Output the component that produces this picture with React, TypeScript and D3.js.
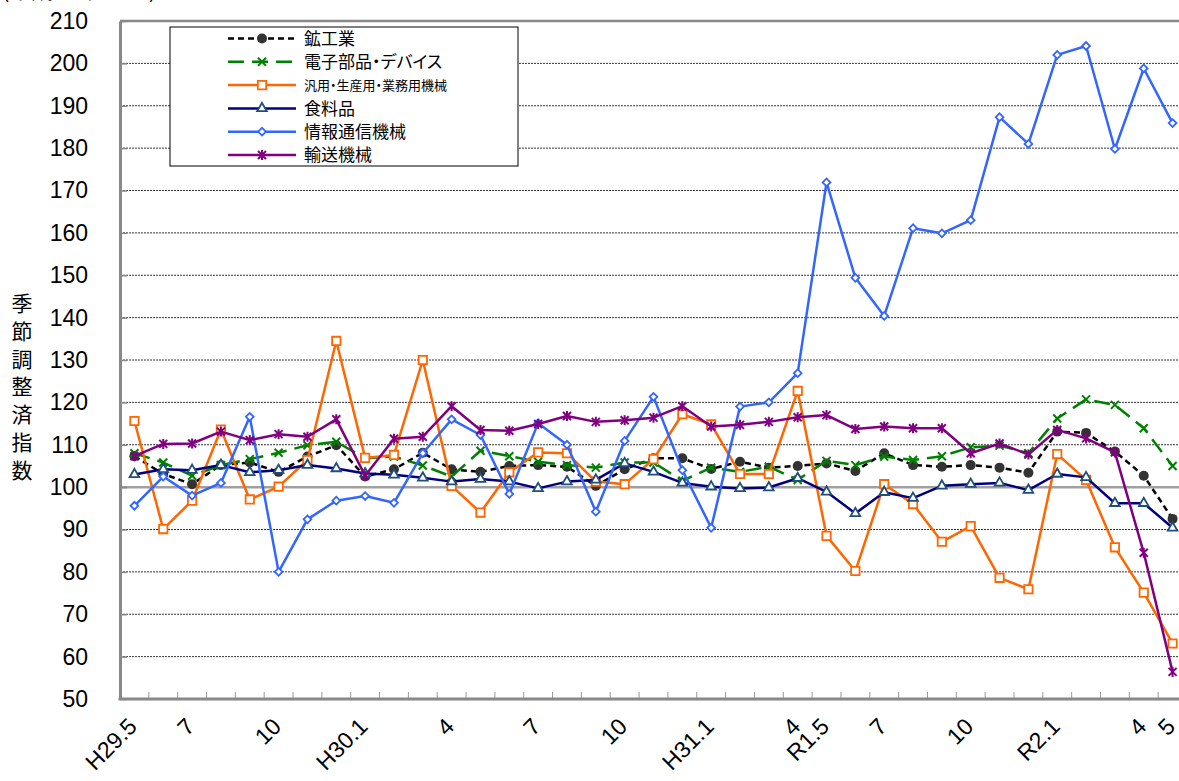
import * as d3 from 'd3';
import { useEffect, useRef } from 'react';

// months from H29.5 to R2.5
const months = [
  'H29.5', 'H29.6', 'H29.7', 'H29.8', 'H29.9', 'H29.10', 'H29.11', 'H29.12',
  'H30.1', 'H30.2', 'H30.3', 'H30.4', 'H30.5', 'H30.6', 'H30.7', 'H30.8', 'H30.9', 'H30.10', 'H30.11', 'H30.12',
  'H31.1', 'H31.2', 'H31.3', 'H31.4',
  'R1.5', 'R1.6', 'R1.7', 'R1.8', 'R1.9', 'R1.10', 'R1.11', 'R1.12',
  'R2.1', 'R2.2', 'R2.3', 'R2.4', 'R2.5',
];

const tickLabels = [
  'H29.5', '', '7', '', '', '10', '', '',
  'H30.1', '', '', '4', '', '', '7', '', '', '10', '', '',
  'H31.1', '', '', '4',
  'R1.5', '', '7', '', '', '10', '', '',
  'R2.1', '', '', '4', '5',
];

const yTicks = [50, 60, 70, 80, 90, 100, 110, 120, 130, 140, 150, 160, 170, 180, 190, 200, 210];

const mining = [107.3, 103.1, 100.7, 105.2, 105.8, 103.6, 107.2, 109.9, 102.5, 104.2, 108.1, 104.2, 103.6, 105, 105.2, 104.8, 100.3, 104.2, 106.8, 106.8, 104.3, 106, 104.6, 105, 105.6, 103.8, 108, 105.2, 104.8, 105.2, 104.6, 103.4, 113.1, 112.8, 108.4, 102.7, 92.5];
const electronic = [108, 105.8, 102.7, 105.2, 106.6, 108.1, 109.9, 110.7, 106.8, 107.2, 105.1, 102.5, 108.6, 107.3, 106, 105.2, 104.6, 105.8, 105.8, 101.5, 104.6, 103.6, 104.8, 101.7, 106.2, 105.2, 107.2, 106.4, 107.3, 109.4, 109.8, 108, 116.2, 120.7, 119.4, 113.9, 105];
const machinery = [115.6, 90.1, 96.8, 113.6, 97.1, 100.1, 106.4, 134.5, 106.9, 107.6, 130, 100.3, 94, 103.5, 108.2, 108, 101.3, 100.7, 106.6, 117.2, 114.8, 103.1, 103.1, 122.7, 88.5, 80.2, 100.7, 96, 87.1, 90.8, 78.6, 75.9, 107.8, 101.7, 85.8, 75.1, 63.1];
const food = [103, 104.2, 104, 105.2, 103.5, 104, 105.2, 104.4, 103.2, 102.9, 102.2, 101.3, 101.9, 101.3, 99.7, 101.3, 101.7, 105.6, 103.6, 101, 100.1, 99.7, 99.9, 102.1, 98.9, 93.8, 98.8, 97.4, 100.3, 100.7, 101, 99.3, 103.1, 102.3, 96.2, 96.2, 90.4];
const infoComm = [95.6, 102.5, 98, 101, 116.6, 80, 92.4, 96.8, 97.9, 96.3, 108, 116, 112.3, 98.4, 115.1, 110, 94.2, 110.9, 121.3, 104, 90.4, 119, 120, 126.9, 171.9, 149.4, 140.4, 161.1, 159.9, 163, 187.3, 181, 202, 204.1, 179.8, 198.8, 185.9];
const transport = [107.3, 110.2, 110.3, 113.1, 111.1, 112.5, 111.9, 116, 102.7, 111.4, 111.9, 119.1, 113.5, 113.3, 114.9, 116.8, 115.4, 115.8, 116.4, 119.1, 114.3, 114.7, 115.4, 116.5, 117, 113.7, 114.3, 113.9, 113.9, 108, 110.3, 107.7, 113.5, 111.5, 108.2, 84.5, 56.4];

const series = [
  { name: '鉱工業', values: mining, color: '#000000', dash: '6,4', marker: 'circle', markerColor: '#333333', fontSize: 17 },
  { name: '電子部品・デバイス', values: electronic, color: '#008000', dash: '16,8', marker: 'cross', markerColor: '#008000', fontSize: 17 },
  { name: '汎用・生産用・業務用機械', values: machinery, color: '#FF6600', dash: null, marker: 'square', markerColor: '#FF6600', fontSize: 13 },
  { name: '食料品', values: food, color: '#000080', dash: null, marker: 'triangle', markerColor: '#1F4E79', fontSize: 17 },
  { name: '情報通信機械', values: infoComm, color: '#3366FF', dash: null, marker: 'diamond', markerColor: '#3366FF', fontSize: 17 },
  { name: '輸送機械', values: transport, color: '#800080', dash: null, marker: 'star', markerColor: '#800080', fontSize: 17 },
];

const FONT = '"Liberation Sans", Arial, "Noto Sans CJK JP", sans-serif';
const JP_FONT = '"Noto Sans CJK JP", sans-serif';

const drawMarker = (g: any, type: string, color: string) => {
  if (type === 'circle') {
    g.append('circle').attr('r', 5).attr('fill', color);
  } else if (type === 'cross') {
    g.append('path').attr('d', 'M-4,-4L4,4M-4,4L4,-4').attr('stroke', color).attr('stroke-width', 2).attr('fill', 'none');
  } else if (type === 'square') {
    g.append('path').attr('d', d3.symbol(d3.symbolSquare, 70)()).attr('fill', '#fff').attr('stroke', color).attr('stroke-width', 1.8);
  } else if (type === 'triangle') {
    g.append('path').attr('d', d3.symbol(d3.symbolTriangle, 40)()).attr('fill', '#fff').attr('stroke', color).attr('stroke-width', 1.8);
  } else if (type === 'diamond') {
    g.append('path').attr('d', d3.symbol(d3.symbolSquare, 30)()).attr('transform', 'rotate(45)').attr('fill', '#fff').attr('stroke', color).attr('stroke-width', 1.8);
  } else if (type === 'star') {
    g.append('path').attr('d', 'M-4,-4L4,4M-4,4L4,-4M0,-5L0,5').attr('stroke', color).attr('stroke-width', 2).attr('fill', 'none');
  }
};

const App = () => {
  const ref = useRef<SVGSVGElement | null>(null);

  useEffect(() => {
    const width = 1179;
    const height = 781;
    const left = 120;
    const right = 1187;
    const top = 21;
    const bottom = 699;

    const svg = d3.select(ref.current).attr('width', width).attr('height', height);
    svg.selectAll('*').remove();

    const x = d3.scaleBand().domain(months).range([left, right]);
    const y = d3.scaleLinear().domain([50, 210]).range([bottom, top]);
    const cx = (m: string) => (x(m) as number) + x.bandwidth() / 2;

    // unit text, mostly above the top edge in the original
    svg.append('text').attr('x', 2).attr('y', -2.5).attr('font-family', JP_FONT).attr('font-size', 22).text('(平成27年=100)');

    // grid lines
    svg.append('g')
      .selectAll('line')
      .data(yTicks.filter((v) => v !== 50 && v !== 100 && v !== 210))
      .join('line')
      .attr('x1', left)
      .attr('x2', width)
      .attr('y1', (d) => y(d))
      .attr('y2', (d) => y(d))
      .attr('stroke', '#333')
      .attr('stroke-width', 1)
      .attr('stroke-dasharray', '2,1');

    // 100 reference line
    svg.append('line')
      .attr('x1', left).attr('x2', width)
      .attr('y1', y(100)).attr('y2', y(100))
      .attr('stroke', '#a0a0a0').attr('stroke-width', 2.5);

    // top border
    svg.append('line')
      .attr('x1', left).attr('x2', width)
      .attr('y1', y(210)).attr('y2', y(210))
      .attr('stroke', '#888').attr('stroke-width', 2.5);

    // y axis
    const yAxis = svg.append('g')
      .attr('transform', `translate(${left},0)`)
      .call(d3.axisLeft(y).tickValues(yTicks).tickSizeInner(-7).tickSizeOuter(0).tickPadding(32));
    yAxis.select('.domain').attr('stroke', '#888').attr('stroke-width', 3);
    yAxis.selectAll('.tick line').attr('stroke', '#888').attr('stroke-width', 1.5);
    yAxis.selectAll('.tick text').attr('font-family', FONT).attr('font-size', 23).attr('fill', '#000');

    // x axis
    svg.append('g')
      .selectAll('line')
      .data(months.slice(1))
      .join('line')
      .attr('x1', (d) => x(d) as number)
      .attr('x2', (d) => x(d) as number)
      .attr('y1', bottom)
      .attr('y2', bottom - 7)
      .attr('stroke', '#999')
      .attr('stroke-width', 1);
    svg.append('line')
      .attr('x1', left - 1.5).attr('x2', width)
      .attr('y1', bottom).attr('y2', bottom)
      .attr('stroke', '#888').attr('stroke-width', 3);

    svg.append('g')
      .selectAll('text')
      .data(months)
      .join('text')
      .attr('transform', (d) => `translate(${cx(d) + 4},${bottom + 29}) rotate(-45)`)
      .attr('text-anchor', 'end')
      .attr('font-family', FONT)
      .attr('font-size', 23)
      .text((d, i) => tickLabels[i]);

    // y axis title, vertical
    const title = '季節調整済指数';
    svg.append('g')
      .selectAll('text')
      .data(title.split(''))
      .join('text')
      .attr('x', 22)
      .attr('y', (d, i) => 311 + i * 27.8)
      .attr('text-anchor', 'middle')
      .attr('font-family', JP_FONT)
      .attr('font-size', 21)
      .text((d) => d);

    // series
    const line = d3.line<number>()
      .x((d, i) => cx(months[i]))
      .y((d) => y(d));

    series.forEach((s) => {
      const p = svg.append('path')
        .datum(s.values)
        .attr('d', line)
        .attr('fill', 'none')
        .attr('stroke', s.color)
        .attr('stroke-width', 2.5)
        .attr('stroke-linejoin', 'round');
      if (s.dash) p.attr('stroke-dasharray', s.dash);
      s.values.forEach((v, i) => {
        const g = svg.append('g').attr('transform', `translate(${cx(months[i])},${y(v)})`);
        drawMarker(g, s.marker, s.markerColor);
      });
    });

    // legend
    const lg = svg.append('g').attr('transform', 'translate(170,27)');
    lg.append('rect').attr('width', 348).attr('height', 139).attr('fill', '#fff').attr('stroke', '#000').attr('stroke-width', 1);
    series.forEach((s, i) => {
      const ry = 11.5 + i * 23.3;
      const l = lg.append('line')
        .attr('x1', 58).attr('x2', 126)
        .attr('y1', ry).attr('y2', ry)
        .attr('stroke', s.color).attr('stroke-width', 2.5);
      if (s.dash) l.attr('stroke-dasharray', s.dash);
      const g = lg.append('g').attr('transform', `translate(92,${ry})`);
      drawMarker(g, s.marker, s.markerColor);
      lg.append('text')
        .attr('x', 134)
        .attr('y', ry + s.fontSize * 0.36)
        .attr('font-family', JP_FONT)
        .attr('font-size', s.fontSize)
        .style('font-feature-settings', '"palt"')
        .text(s.name);
    });
  }, []);

  return <svg ref={ref} style={{ position: 'absolute', left: 0, top: 0 }}></svg>;
};

export default App;
